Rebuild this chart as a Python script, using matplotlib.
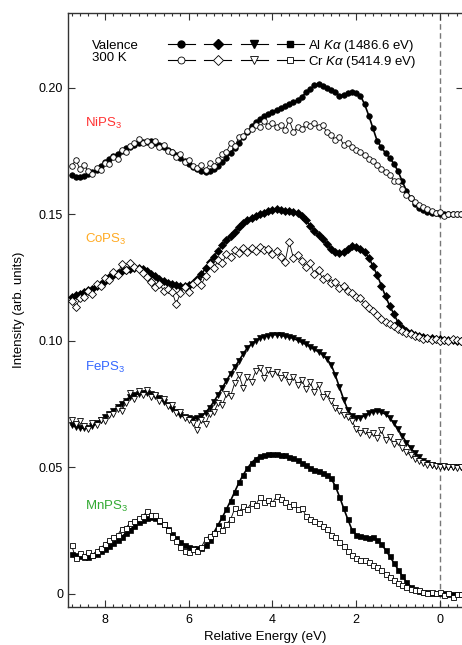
import numpy as np
import matplotlib
matplotlib.use("Agg")
import matplotlib.pyplot as plt
from matplotlib.lines import Line2D
from matplotlib.legend_handler import HandlerTuple
from matplotlib.ticker import MultipleLocator

plt.rcParams['font.family'] = ['Liberation Sans', 'DejaVu Sans']
plt.rcParams['mathtext.fontset'] = 'custom'
plt.rcParams['mathtext.rm'] = 'Liberation Sans'
plt.rcParams['mathtext.it'] = 'Liberation Sans:italic'
plt.rcParams['font.size'] = 9

# energy grid (eV), 8.8 down to -0.5 in 0.1 eV steps
energy = np.round(8.8 - 0.1 * np.arange(94), 2)

# intensities in units of 1e-3, without vertical offset
ni_al = [15.5, 14.8, 14.6, 15.2, 15.8, 16.6, 17.5, 19.0, 20.5, 22.0,
         23.0, 24.0, 25.0, 26.1, 26.8, 27.5, 28.0, 28.4, 28.7, 28.8,
         28.2, 27.3, 26.5, 25.5, 24.5, 23.4, 22.2, 21.0, 19.8, 18.8,
         17.8, 17.2, 16.9, 17.0, 17.8, 19.3, 20.6, 22.4, 24.3, 26.4,
         28.3, 30.5, 32.7, 34.8, 36.3, 37.6, 38.7, 39.6, 40.5, 41.4,
         42.1, 42.9, 43.8, 44.5, 45.1, 46.4, 48.2, 49.6, 51.0, 51.5,
         50.9, 50.0, 49.2, 48.3, 46.9, 47.1, 47.9, 48.2, 48.0, 46.9,
         43.5, 39.0, 34.0, 29.0, 26.5, 24.2, 22.3, 20.0, 17.0, 13.0,
         9.3, 6.6, 4.0, 2.6, 1.6, 1.0, 0.6, 0.4, 0.2, 0.1,
         0.1, 0.0, 0.0, 0.0]
ni_cr = [19.0, 21.5, 18.0, 19.5, 17.0, 15.8, 18.2, 17.6, 20.4, 19.8,
         22.8, 22.0, 25.6, 24.8, 27.2, 28.0, 29.6, 28.2, 29.0, 27.6,
         28.8, 26.8, 27.4, 25.0, 24.6, 22.6, 23.8, 20.6, 21.4, 19.0,
         18.2, 19.6, 17.4, 20.2, 19.0, 21.6, 23.8, 24.6, 28.2, 27.0,
         30.4, 31.0, 32.8, 33.6, 35.2, 34.4, 36.8, 35.0, 36.2, 34.6,
         35.4, 33.2, 37.4, 32.4, 34.6, 33.6, 35.8, 35.0, 36.0, 34.4,
         35.2, 32.4, 31.4, 29.2, 30.6, 27.4, 28.2, 26.8, 25.6, 24.8,
         23.6, 22.0, 21.2, 19.6, 18.0, 16.6, 15.6, 13.2, 13.0, 10.2,
         7.8, 6.4, 4.8, 3.6, 2.8, 2.0, 1.2, 0.4, 1.0, -0.8,
         0.2, 0.0, 0.0, 0.0]
co_al = [17.4, 18.0, 18.6, 19.3, 19.9, 20.6, 21.5, 22.6, 23.8, 25.2,
         26.0, 26.8, 27.5, 28.1, 28.5, 28.8, 28.7, 28.2, 27.4, 26.6,
         25.6, 24.6, 23.8, 23.0, 22.3, 21.9, 21.6, 21.5, 22.0, 23.0,
         24.5, 26.4, 28.6, 31.0, 33.3, 35.6, 37.8, 39.8, 41.6, 43.2,
         44.8, 46.4, 47.6, 48.5, 49.3, 50.0, 50.6, 51.2, 51.7, 52.1,
         51.8, 51.5, 51.2, 50.8, 50.4, 49.3, 47.6, 45.4, 43.6, 41.8,
         40.2, 38.2, 36.4, 35.3, 34.8, 35.2, 36.4, 37.4, 37.2, 36.4,
         35.0, 32.8, 29.6, 26.0, 21.8, 17.6, 13.8, 10.6, 7.2, 5.2,
         3.8, 3.0, 2.4, 2.0, 1.6, 1.3, 1.0, 0.8, 0.6, 0.4,
         0.3, 0.2, 0.1, 0.0]
co_cr = [15.6, 13.4, 16.8, 17.4, 19.8, 18.6, 22.4, 21.6, 24.8, 24.0,
         27.2, 26.2, 30.4, 28.0, 30.8, 29.0, 28.4, 26.8, 25.2, 23.4,
         21.4, 22.6, 19.8, 20.6, 19.4, 14.6, 18.8, 21.2, 19.2, 22.4,
         23.6, 22.0, 25.8, 30.2, 28.6, 32.0, 30.8, 34.2, 33.0, 35.8,
         34.6, 36.6, 35.0, 36.8, 35.4, 37.0, 35.8, 36.4, 34.4, 35.6,
         33.0, 31.2, 39.2, 32.6, 34.0, 31.4, 29.0, 30.6, 26.4, 27.8,
         24.6, 25.2, 22.8, 23.4, 21.0, 21.8, 19.6, 19.0, 17.2, 16.8,
         14.6, 13.0, 11.6, 10.4, 8.6, 7.4, 6.6, 5.8, 4.6, 3.8,
         3.2, 2.6, 1.8, 1.4, 0.8, 1.0, 0.4, 0.6, 0.0, 0.4,
         -0.2, 0.6, 0.2, 0.0]
fe_al = [16.6, 16.0, 15.6, 15.4, 15.6, 16.4, 17.4, 18.6, 19.8, 21.0,
         22.4, 23.8, 25.2, 26.4, 27.6, 28.6, 29.0, 29.3, 29.2, 28.8,
         28.2, 27.2, 26.0, 24.6, 23.0, 21.8, 20.6, 19.8, 19.4, 19.2,
         19.4, 20.2, 21.6, 23.6, 26.0, 28.6, 31.4, 34.2, 37.0, 39.6,
         42.2, 44.8, 47.2, 48.8, 50.0, 51.0, 51.6, 52.0, 52.4, 52.4,
         52.2, 51.8, 51.4, 51.0, 50.2, 49.4, 48.6, 47.6, 46.6, 45.6,
         44.4, 42.8, 40.6, 36.4, 31.6, 26.8, 22.6, 20.4, 19.6, 19.6,
         20.4, 21.4, 22.0, 22.2, 21.8, 21.0, 19.6, 17.4, 15.0, 12.4,
         9.8, 7.6, 5.6, 4.0, 2.6, 1.6, 1.0, 0.6, 0.4, 0.3,
         0.2, 0.1, 0.0, 0.0]
fe_cr = [18.8, 17.0, 18.4, 16.2, 15.2, 17.4, 16.6, 18.8, 18.2, 20.6,
         21.0, 23.2, 22.4, 25.6, 29.4, 27.0, 30.2, 28.6, 30.4, 27.8,
         28.6, 26.4, 27.0, 24.2, 24.8, 21.4, 21.8, 19.6, 18.6, 17.4,
         14.8, 18.6, 17.2, 21.2, 21.8, 25.4, 24.6, 28.8, 28.2, 33.4,
         36.4, 31.4, 35.6, 33.8, 38.0, 39.4, 35.4, 38.6, 36.8, 37.8,
         35.2, 36.6, 33.8, 35.8, 32.6, 34.4, 31.0, 33.6, 29.8, 32.4,
         27.6, 29.0, 26.4, 23.4, 22.2, 20.6, 20.0, 18.2, 15.2, 13.4,
         14.2, 12.8, 13.6, 11.4, 14.6, 10.6, 11.8, 9.4, 10.0, 7.6,
         6.0, 4.8, 3.4, 2.6, 1.6, 1.0, 0.8, 0.4, 0.2, 0.6,
         0.0, 0.2, -0.4, 0.0]
mn_al = [15.8, 15.2, 14.8, 14.5, 14.6, 15.2, 15.9, 16.8, 17.8, 19.0,
         20.2, 21.4, 22.6, 24.0, 25.4, 26.8, 28.2, 29.2, 30.0, 30.3,
         29.8, 28.8, 27.4, 25.8, 23.8, 22.0, 20.6, 19.4, 18.6, 18.2,
         18.0, 18.2, 19.2, 21.4, 24.2, 27.2, 30.2, 33.4, 36.8, 40.4,
         44.0, 47.0, 49.6, 51.8, 53.4, 54.4, 54.8, 55.1, 55.3, 55.2,
         55.0, 54.7, 54.2, 53.6, 52.8, 51.8, 50.8, 49.8, 49.0, 48.4,
         47.8, 47.0, 45.6, 42.6, 38.4, 33.8, 29.4, 25.2, 23.4, 22.8,
         22.4, 22.2, 22.6, 21.2, 19.6, 17.4, 14.8, 12.2, 9.6, 7.0,
         4.6, 2.8, 1.8, 1.2, 0.8, 0.6, 0.4, 0.3, 0.2, 0.2,
         0.1, 0.1, 0.0, 0.0]
mn_cr = [19.2, 14.2, 16.0, 15.0, 16.4, 15.4, 17.0, 18.2, 19.6, 21.2,
         22.4, 23.2, 25.8, 26.2, 28.0, 28.6, 29.8, 30.6, 32.6, 31.2,
         31.0, 29.2, 27.6, 25.2, 22.6, 20.8, 18.4, 16.8, 16.4, 17.6,
         16.8, 18.4, 21.6, 23.0, 24.2, 26.0, 25.4, 27.6, 29.4, 33.8,
         32.4, 34.6, 33.6, 36.0, 35.0, 38.2, 36.4, 37.2, 36.0, 38.6,
         37.4, 36.2, 34.8, 35.6, 33.4, 34.0, 30.8, 29.6, 28.8, 28.0,
         26.8, 25.6, 23.4, 22.6, 20.4, 18.8, 17.0, 15.4, 14.2, 13.4,
         13.2, 12.6, 11.4, 10.6, 9.4, 8.0, 6.8, 5.6, 4.4, 3.4,
         2.6, 2.0, 1.4, 1.6, 0.6, 0.4, 0.8, 0.2, 0.6, -0.6,
         0.4, -1.2, 0.0, 0.0]

samples = ['NiPS$_3$', 'CoPS$_3$', 'FePS$_3$', 'MnPS$_3$']
offsets = [0.15, 0.10, 0.05, 0.0]
markers = ['o', 'D', 'v', 's']
label_colors = ['#ff3333', '#ffaa22', '#3366ff', '#33aa33']
label_y = [0.186, 0.140, 0.0895, 0.0345]
al_data = [ni_al, co_al, fe_al, mn_al]
cr_data = [ni_cr, co_cr, fe_cr, mn_cr]

fig = plt.figure(figsize=(4.62, 6.45), dpi=100)
ax = fig.add_axes([68 / 462, 38.3 / 645, 395 / 462, 594 / 645])

msize = {'o': 4.0, 'D': 3.6, 'v': 4.2, 's': 3.6}
for name, off, mk, col, ly, al, cr in zip(samples, offsets, markers,
                                          label_colors, label_y,
                                          al_data, cr_data):
    al = np.array(al) * 1e-3 + off
    cr = np.array(cr) * 1e-3 + off
    ax.plot(energy, al, '-', color='black', lw=1.2, marker=mk,
            ms=msize[mk], mfc='black', mec='black', mew=0.5, zorder=3)
    ax.plot(energy, cr, '-', color='black', lw=0.6, marker=mk,
            ms=msize[mk], mfc='white', mec='black', mew=0.6, zorder=4)
    ax.text(8.48, ly, name, color=col, fontsize=9.5, va='center',
            ha='left')

ax.axvline(0, color='#777777', ls=(0, (4, 2.5)), lw=1.0, zorder=1)

ax.set_xlim(8.884, -0.55)
ax.set_ylim(-0.0051, 0.2297)
ax.xaxis.set_major_locator(MultipleLocator(2))
ax.xaxis.set_minor_locator(MultipleLocator(0.2))
ax.set_yticks([0, 0.05, 0.10, 0.15, 0.20])
ax.set_yticklabels(['0', '0.05', '0.10', '0.15', '0.20'])
ax.tick_params(which='both', direction='in', top=True, right=True,
               labelsize=9, width=0.8, color='#333333')
ax.tick_params(which='major', length=5)
ax.tick_params(axis='x', which='major', pad=5)
ax.tick_params(axis='y', which='major', pad=3.5)
ax.tick_params(which='minor', length=2.5)
for s in ax.spines.values():
    s.set_linewidth(1.0)
    s.set_color('#333333')

ax.set_xlabel('Relative Energy (eV)', fontsize=9.5, labelpad=4)
ax.set_ylabel('Intensity (arb. units)', fontsize=9.5, labelpad=10)

# legend: filled = Al Ka, open = Cr Ka
filled = tuple(Line2D([], [], color='black', lw=0.8, marker=m, ms=msize[m] + 1.0,
                      mfc='black', mec='black') for m in markers)
opened = tuple(Line2D([], [], color='black', lw=0.8, marker=m, ms=msize[m] + 1.0,
                      mfc='white', mec='black', mew=0.6) for m in markers)
leg = ax.legend([filled, opened],
                [r'Al $K\alpha$ (1486.6 eV)', r'Cr $K\alpha$ (5414.9 eV)'],
                handler_map={tuple: HandlerTuple(ndivide=None, pad=0.7)},
                loc='upper left', bbox_to_anchor=(0.253, 0.958),
                frameon=False, fontsize=9.5, handlelength=10.3,
                handletextpad=0.35, labelspacing=0.0, borderpad=0,
                borderaxespad=0)
ax.text(0.061, 0.954, 'Valence\n300 K', transform=ax.transAxes,
        fontsize=9.5, va='top', ha='left', linespacing=1.05)

fig.savefig('out.png', dpi=100)
